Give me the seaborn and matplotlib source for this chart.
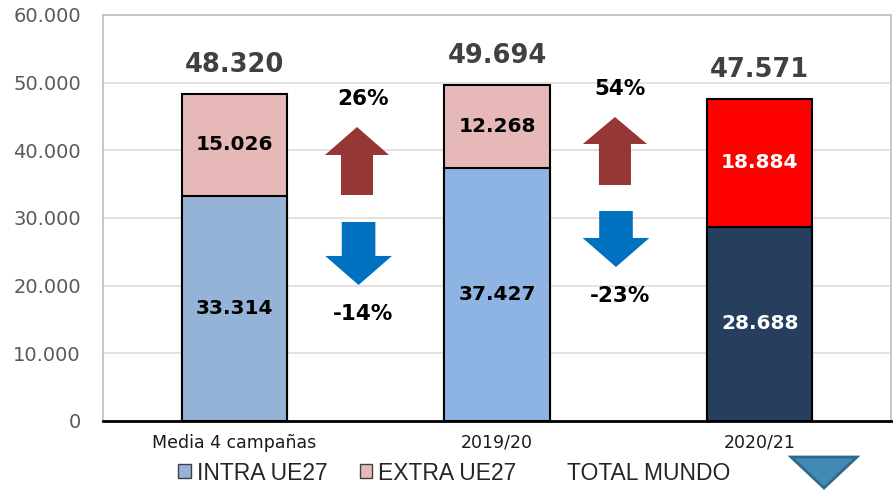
import numpy as np
import pandas as pd
import matplotlib
matplotlib.use("Agg")
import matplotlib.pyplot as plt
import seaborn as sns
from matplotlib.patches import Patch, Polygon
from matplotlib.lines import Line2D

# =============================
# data
# =============================
campaigns = ["Media 4 campañas", "2019/20", "2020/21"]
intra_ue27 = [33314, 37427, 28688]
extra_ue27 = [15026, 12268, 18884]
total_mundo = [48320, 49694, 47571]
pct_up = [26, 54]       # variacion EXTRA UE27
pct_down = [-14, -23]   # variacion INTRA UE27

intra_colors = ["#95B3D7", "#8EB4E3", "#263F5F"]
extra_colors = ["#E6B9B8", "#E6B9B8", "#FF0000"]
seg_text_colors = ["#000000", "#000000", "#FFFFFF"]

df = pd.DataFrame({"campana": campaigns, "intra": intra_ue27,
                   "extra": extra_ue27, "total": total_mundo})


def fmt(v):
    return f"{int(v):,}".replace(",", ".")


sns.set_style("white")
plt.rcParams["font.family"] = ["DejaVu Sans"]

fig = plt.figure(figsize=(8.95, 4.91), dpi=100)
ax = fig.add_axes([103 / 895, 70 / 491, 788 / 895, 406 / 491])

# stacked bars: total first (extra colour), intra over it
sns.barplot(data=df, x="campana", y="total", hue="campana", palette=extra_colors,
            legend=False, width=0.4, saturation=1, edgecolor="black",
            linewidth=1.5, ax=ax)
sns.barplot(data=df, x="campana", y="intra", hue="campana", palette=intra_colors,
            legend=False, width=0.4, saturation=1, edgecolor="black",
            linewidth=1.5, ax=ax)

ax.set_xlim(-0.5, 2.5)
ax.set_ylim(0, 60000)
ax.set_yticks(np.arange(0, 60001, 10000))
ax.set_yticklabels([fmt(v) for v in np.arange(0, 60001, 10000)],
                   fontsize=14, color="#595959")
ax.tick_params(axis="y", length=0, pad=16)
ax.tick_params(axis="x", length=0, pad=9, labelsize=12.5, labelcolor="#1a1a1a")
ax.set_xlabel("")
ax.set_ylabel("")
ax.yaxis.grid(True, color="#DDDDDD", lw=1.2)
ax.set_axisbelow(True)
for s in ["left", "top", "right"]:
    ax.spines[s].set_color("#BFBFBF")
    ax.spines[s].set_linewidth(1.2)
ax.spines["bottom"].set_color("black")
ax.spines["bottom"].set_linewidth(2)

# segment and total labels
for i, row in df.iterrows():
    ax.text(i, row.intra / 2, fmt(row.intra), ha="center", va="center",
            fontsize=14.5, fontweight="bold", color=seg_text_colors[i])
    ax.text(i, row.intra + row.extra / 2, fmt(row.extra), ha="center",
            va="center", fontsize=14.5, fontweight="bold", color=seg_text_colors[i])
    ax.annotate(fmt(row.total), (i, row.total), xytext=(0, 21),
                textcoords="offset points", ha="center", va="center",
                fontsize=18.5, fontweight="bold", color="#404040")


# variation arrows between bars
def arrow(cx, y0, y1, head_len, head_hw, shaft_hw, color):
    d = 1 if y1 > y0 else -1
    yb = y1 - d * head_len
    pts = [(cx - shaft_hw, y0), (cx + shaft_hw, y0), (cx + shaft_hw, yb),
           (cx + head_hw, yb), (cx, y1), (cx - head_hw, yb), (cx - shaft_hw, yb)]
    ax.add_patch(Polygon(pts, closed=True, facecolor=color, edgecolor="none", zorder=3))


up_geo = [(0.467, 33400, 43450, 4140), (1.449, 34880, 44930, 3990)]
down_geo = [(0.473, 29410, 20100, 4290), (1.453, 31030, 22760, 4290)]
for (cx, y0, y1, hl), p in zip(up_geo, pct_up):
    arrow(cx, y0, y1, hl, 0.122, 0.061, "#953735")
    ax.annotate(f"{p}%", (cx, y1), xytext=(4, 20), textcoords="offset points",
                ha="center", va="center", fontsize=15.5, fontweight="bold",
                color="black")
for (cx, y0, y1, hl), p in zip(down_geo, pct_down):
    arrow(cx, y0, y1, hl, 0.127, 0.064, "#0070C0")
    ax.annotate(f"{p}%", (cx, y1), xytext=(3, -21), textcoords="offset points",
                ha="center", va="center", fontsize=15.5, fontweight="bold",
                color="black")

# legend
handles = [Patch(facecolor=intra_colors[0], edgecolor="#404040", lw=1),
           Patch(facecolor=extra_colors[0], edgecolor="#404040", lw=1),
           Line2D([], [], color="none")]
fig.legend(handles, ["INTRA UE27", "EXTRA UE27", "TOTAL MUNDO"],
           loc="center left", bbox_to_anchor=(167 / 895, 1 - 473 / 491),
           ncol=3, frameon=False, borderpad=0, handlelength=0.55,
           handleheight=0.55, handletextpad=0.25, columnspacing=1.4,
           prop={"family": "Liberation Sans", "size": 16.5})

# decorative triangle
tri = [(791 / 895, 1 - 457 / 491), (857 / 895, 1 - 457 / 491), (824 / 895, 1 - 488 / 491)]
fig.add_artist(Polygon(tri, closed=True, transform=fig.transFigure,
                       facecolor="#418AB3", edgecolor="#2F6A8A", lw=2))

fig.savefig("out.png", dpi=100)
